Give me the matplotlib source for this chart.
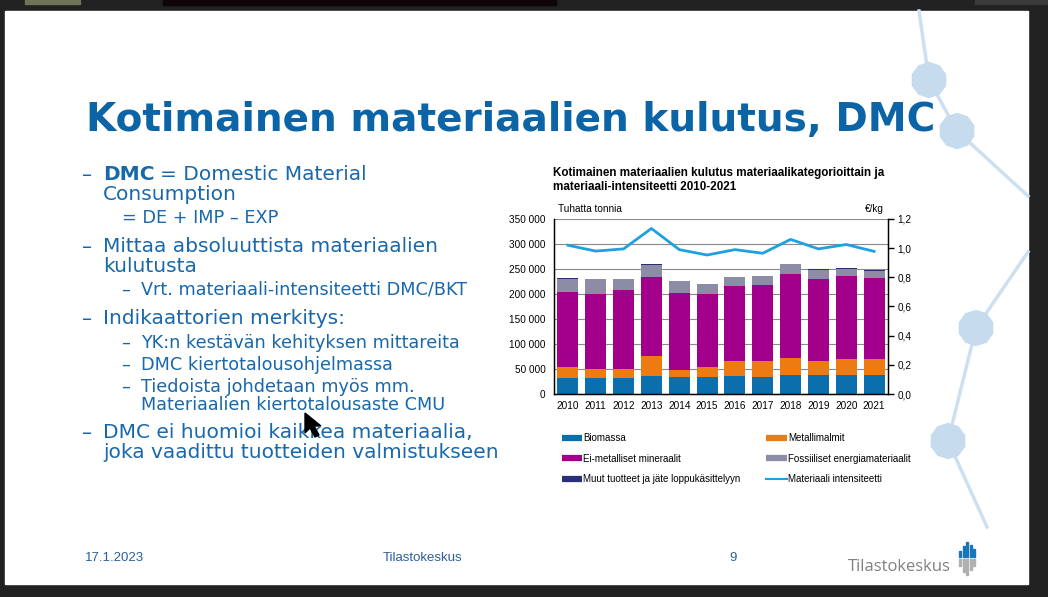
import numpy as np
import matplotlib
matplotlib.use("Agg")
import matplotlib.pyplot as plt
from matplotlib.patches import Rectangle, RegularPolygon, Polygon
from matplotlib.lines import Line2D

# data (thousand tonnes, €/kg)
years = ['2010', '2011', '2012', '2013', '2014', '2015',
         '2016', '2017', '2018', '2019', '2020', '2021']
biomassa = [33000, 33000, 33000, 36500, 34500, 34500, 36500, 34500, 39000, 39000, 37500, 39000]
metallimalmit = [20500, 17500, 17500, 40000, 13500, 19500, 30500, 32500, 33500, 28000, 33000, 31500]
ei_metalliset = [151000, 150000, 158000, 158000, 154000, 145500, 148500, 150500, 167000, 163500, 165000, 162500]
fossiiliset = [26000, 30000, 22000, 24500, 24000, 20500, 18000, 19000, 20000, 18000, 14500, 13500]
muut = [1500, 500, 500, 1500, 1000, 500, 1500, 500, 1500, 1000, 1500, 1000]
intensiteetti = [1.02, 0.98, 0.995, 1.135, 0.99, 0.953, 0.99, 0.965, 1.06, 0.995, 1.025, 0.978]

labels = ['Biomassa', 'Metallimalmit', 'Ei-metalliset mineraalit',
          'Fossiiliset energiamateriaalit', 'Muut tuotteet ja jäte loppukäsittelyyn',
          'Materiaali intensiteetti']
colors = ['#0b6fad', '#ee7a12', '#a2008b', '#8d8ca6', '#2b2f78', '#1fa0e0']

W, H = 1048, 597
fig = plt.figure(figsize=(W / 100, H / 100), dpi=100, facecolor='#212121')

# slide background (pixel coordinates)
bg = fig.add_axes([0, 0, 1, 1])
bg.set_xlim(0, W)
bg.set_ylim(H, 0)
bg.axis('off')
bg.add_patch(Rectangle((25, 0), 55, 4, color='#6f7459'))
bg.add_patch(Rectangle((163, 0), 393, 5, color='#0e0508'))
bg.add_patch(Rectangle((975, 0), 73, 4, color='#3a3a3a'))
bg.add_patch(Rectangle((5, 11), 1023, 573, color='white'))

# network decoration
net = '#cde0f0'
nodes = [(929, 80), (957, 131), (976, 328), (948, 441)]
segs = [[(919, 11), nodes[0]], [nodes[0], nodes[1]], [nodes[1], (1028, 196)],
        [(1028, 252), nodes[2]], [nodes[2], nodes[3]], [nodes[3], (987, 527)]]
for s in segs:
    bg.plot([s[0][0], s[1][0]], [s[0][1], s[1][1]], color=net, lw=2.5, zorder=1)
for n in nodes:
    bg.add_patch(RegularPolygon(n, 10, radius=17.5, color='#c6dbed', zorder=2))

blue_title = '#0a64a6'
blue_text = '#1868ab'
bg.text(86, 120, 'Kotimainen materiaalien kulutus, DMC', fontsize=28.1,
        fontweight='bold', color=blue_title, va='center', ha='left', zorder=3)

big = 14.5
small = 12.7
lines_main = [(175, None), (247, 'Mittaa absoluuttista materiaalien'),
              (319, 'Indikaattorien merkitys:'), (433, 'DMC ei huomioi kaikkea materiaalia,')]
for y, t in lines_main:
    bg.text(82, y, '–', fontsize=big, color=blue_text, va='center')
    if t:
        bg.text(103, y, t, fontsize=big, color=blue_text, va='center')
bg.text(103, 175, 'DMC', fontsize=big, fontweight='bold', color=blue_text, va='center')
bg.text(160, 175, '= Domestic Material', fontsize=big, color=blue_text, va='center')
bg.text(103, 194, 'Consumption', fontsize=big, color=blue_text, va='center')
bg.text(103, 267, 'kulutusta', fontsize=big, color=blue_text, va='center')
bg.text(103, 452, 'joka vaadittu tuotteiden valmistukseen', fontsize=big,
        color=blue_text, va='center')
bg.text(122, 218, '= DE + IMP – EXP', fontsize=small, color=blue_text, va='center')
subs = [(290, 'Vrt. materiaali-intensiteetti DMC/BKT'),
        (343, 'YK:n kestävän kehityksen mittareita'),
        (365, 'DMC kiertotalousohjelmassa'),
        (387, 'Tiedoista johdetaan myös mm.')]
for y, t in subs:
    bg.text(121, y, '–', fontsize=small, color=blue_text, va='center')
    bg.text(141, y, t, fontsize=small, color=blue_text, va='center')
bg.text(141, 405, 'Materiaalien kiertotalousaste CMU', fontsize=small,
        color=blue_text, va='center')

# footer
foot = dict(fontsize=9.5, color='#2a5f98', va='center', family='Liberation Sans')
bg.text(85, 558, '17.1.2023', **foot)
bg.text(383, 558, 'Tilastokeskus', **foot)
bg.text(729, 558, '9', **foot)

# logo
bg.text(848, 567, 'Tilastokeskus', fontsize=12, color='#808080', va='center',
        family='Open Sans')
lx = [959, 962.5, 966, 969.5, 973]
ltop = [551, 546, 542, 545, 549]
lbot = [566, 572, 575, 570, 566]
for x, t, b in zip(lx, ltop, lbot):
    bg.add_patch(Rectangle((x, t), 2.0, 557 - t, color='#1a75bb'))
    bg.add_patch(Rectangle((x, 559), 2.0, b - 559, color='#b0b0b0'))

# mouse cursor
bg.add_patch(Polygon([(305, 413), (305, 433), (310, 428), (315, 437),
                      (319, 435), (314, 426), (321, 426)], closed=True,
                     color='black', zorder=10))

# chart
cf = 'Liberation Sans'
bg.text(553, 180, 'Kotimainen materiaalien kulutus materiaalikategorioittain ja\n'
        'materiaali-intensiteetti 2010-2021', fontsize=8.4, fontweight='bold',
        family=cf, va='center', linespacing=1.2)
bg.text(558, 209, 'Tuhatta tonnia', fontsize=7.2, family=cf, va='center')
bg.text(884, 209, '€/kg', fontsize=7.2, family=cf, va='center', ha='right')

ax = fig.add_axes([554 / W, 1 - 394 / H, 334 / W, 175 / H])
x = np.arange(len(years))
series = [biomassa, metallimalmit, ei_metalliset, fossiiliset, muut]
bottom = np.zeros(len(years))
for vals, c in zip(series, colors[:5]):
    ax.bar(x, vals, width=0.76, bottom=bottom, color=c, zorder=2)
    bottom += np.array(vals)

ax.set_xlim(-0.5, len(years) - 0.5)
ax.set_ylim(0, 350000)
yt = np.arange(0, 350001, 50000)
ax.set_yticks(yt)
ax.set_yticklabels([f'{v:,}'.replace(',', ' ') for v in yt])
ax.set_xticks(x)
ax.set_xticklabels(years)
ax.yaxis.grid(True, color='#8a8a8a', lw=0.8)
ax.set_axisbelow(True)
ax.tick_params(axis='y', length=0, pad=6, labelsize=7.2)
ax.tick_params(axis='x', length=0, pad=5, labelsize=7.2)
for lab in ax.get_xticklabels() + ax.get_yticklabels():
    lab.set_family(cf)
ax.spines['top'].set_visible(False)
for s in ['left', 'bottom', 'right']:
    ax.spines[s].set_color('black')
    ax.spines[s].set_linewidth(1)

ax2 = ax.twinx()
ax2.plot(x, intensiteetti, color=colors[5], lw=2)
ax2.set_ylim(0, 1.2)
rt = np.arange(0, 1.21, 0.2)
ax2.set_yticks(rt)
ax2.set_yticklabels([f'{v:.1f}'.replace('.', ',') for v in rt])
ax2.tick_params(axis='y', length=4, width=1, pad=3, labelsize=7.2)
for lab in ax2.get_yticklabels():
    lab.set_family(cf)
ax2.spines['top'].set_visible(False)

# legend (column-major order for ncol=2)
handles = [Line2D([], [], color=c, lw=4.5, solid_capstyle='butt') for c in colors[:5]]
handles.append(Line2D([], [], color=colors[5], lw=1.5))
order = [0, 2, 4, 1, 3, 5]
fig.legend([handles[i] for i in order], [labels[i] for i in order],
           loc='upper left', bbox_to_anchor=(562 / W, 1 - 433 / H), ncol=2,
           frameon=False, borderpad=0, borderaxespad=0, handlelength=2.1,
           handletextpad=0.1, labelspacing=1.1, columnspacing=2.65,
           prop={'family': cf, 'size': 7.0})

fig.savefig('out.png', dpi=100, facecolor=fig.get_facecolor())
